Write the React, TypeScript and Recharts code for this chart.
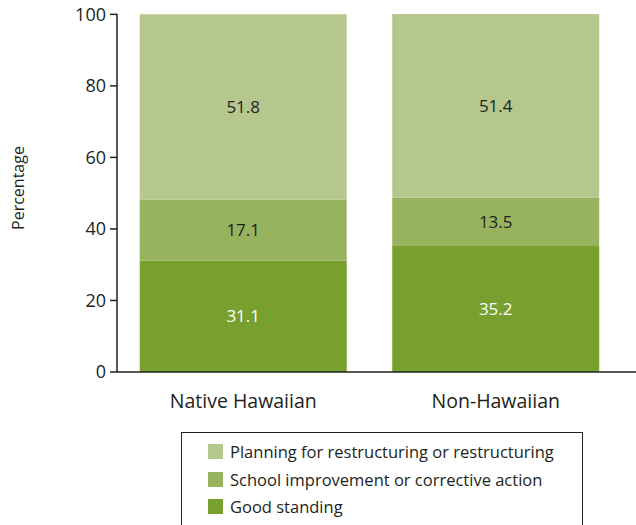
import { BarChart, Bar, XAxis, YAxis, LabelList } from "recharts";

const groups = ["Native Hawaiian", "Non-Hawaiian"];
const goodStanding = [31.1, 35.2];
const improvement = [17.1, 13.5];
const planning = [51.8, 51.4];
const yTicks = [0, 20, 40, 60, 80, 100];

const series = [
  { key: "good", name: "Good standing", color: "#78a02e", text: "#ffffff", values: goodStanding },
  { key: "improve", name: "School improvement or corrective action", color: "#98b35d", text: "#231f20", values: improvement },
  { key: "plan", name: "Planning for restructuring or restructuring", color: "#b6c78d", text: "#231f20", values: planning },
];

const data = groups.map((g, i) => {
  const row: Record<string, string | number> = { group: g };
  series.forEach((s) => {
    row[s.key] = s.values[i];
  });
  return row;
});

const FONT = "'Open Sans', sans-serif";
const INK = "#231f20";

// rotated y axis title, placed by hand next to the axis
const YTitle = () => (
  <text
    x={18}
    y={188}
    transform="rotate(-90, 18, 188)"
    textAnchor="middle"
    dominantBaseline="central"
    fill={INK}
    fontSize={16}
    fontFamily={FONT}
  >
    Percentage
  </text>
);

export default function App() {
  return (
    <div style={{ position: "absolute", left: 0, top: 0, width: 636, height: 525, fontFamily: FONT, background: "#fff" }}>
      <BarChart
        width={636}
        height={525}
        data={data}
        margin={{ top: 14, right: 0, left: 0, bottom: 0 }}
        barCategoryGap="9%"
      >
        <XAxis
          dataKey="group"
          height={153}
          tickLine={false}
          tickMargin={16}
          padding={{ left: 0, right: 14 }}
          axisLine={{ stroke: INK, strokeWidth: 1.5 }}
          tick={{ fill: INK, fontSize: 19.5, fontFamily: FONT }}
        />
        <YAxis
          width={117}
          domain={[0, 100]}
          ticks={yTicks}
          tickSize={7}
          tickMargin={4}
          axisLine={{ stroke: INK, strokeWidth: 1.5 }}
          tickLine={{ stroke: INK, strokeWidth: 1.5 }}
          tick={{ fill: INK, fontSize: 18, fontFamily: FONT }}
          label={<YTitle />}
        />
        {series.map((s) => (
          <Bar key={s.key} dataKey={s.key} name={s.name} stackId="a" fill={s.color} isAnimationActive={false}>
            <LabelList
              dataKey={s.key}
              position="center"
              fill={s.text}
              style={{ fontSize: 17, fontFamily: FONT }}
              formatter={(v: number) => v.toFixed(1)}
            />
          </Bar>
        ))}
      </BarChart>
      <div
        style={{
          position: "absolute",
          left: 181,
          top: 432,
          width: 402,
          height: 100,
          border: `1.5px solid ${INK}`,
          borderBottom: "none",
          boxSizing: "border-box",
          padding: "5px 0 0 26px",
        }}
      >
        {[...series].reverse().map((s) => (
          <div key={s.key} style={{ display: "flex", alignItems: "center", height: 27.5 }}>
            <span style={{ width: 15, height: 15, background: s.color, marginRight: 7, display: "inline-block" }} />
            <span style={{ fontSize: 16.5, color: INK }}>{s.name}</span>
          </div>
        ))}
      </div>
    </div>
  );
}
